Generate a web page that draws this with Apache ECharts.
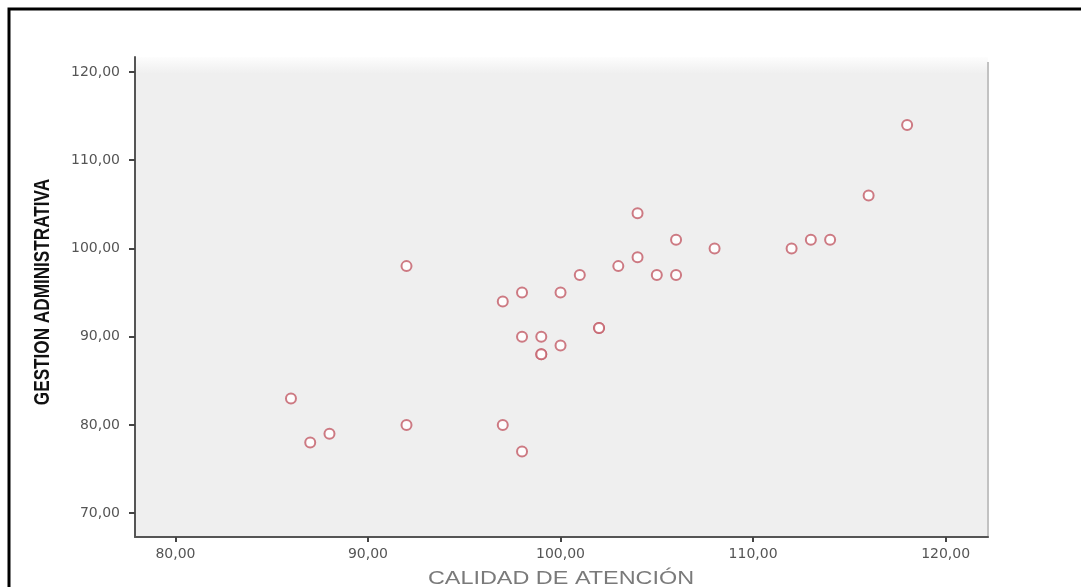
<!DOCTYPE html>
<html>
<head>
<meta charset="utf-8">
<script src="https://cdn.jsdelivr.net/npm/echarts@6/dist/echarts.min.js"></script>
<style>
  html, body { margin: 0; padding: 0; background: #fff; }
  #chart { width: 1081px; height: 587px; }
</style>
</head>
<body>
<div id="chart"></div>
<script>
// CALIDAD DE ATENCIÓN (x) vs GESTION ADMINISTRATIVA (y)
const calidad = [86, 87, 88, 92, 92, 97, 97, 98, 98, 98, 99, 99, 99, 100, 100,
  101, 102, 102, 103, 104, 104, 105, 106, 106, 108, 112, 113, 114, 116, 118];
const gestion = [83, 78, 79, 98, 80, 94, 80, 95, 90, 77, 90, 88, 88, 95, 89,
  97, 91, 91, 98, 104, 99, 97, 101, 97, 100, 100, 101, 101, 106, 114];
const xTicks = [80, 90, 100, 110, 120];
const yTicks = [70, 80, 90, 100, 110, 120];
const xTitle = 'CALIDAD DE ATENCIÓN';
const yTitle = 'GESTION ADMINISTRATIVA';

function fmt(v) {
  return v.toFixed(2).replace('.', ',');
}

let points = calidad.map(function (c, i) {
  return [c, gestion[i]];
});

const chart = echarts.init(document.getElementById('chart'));
let option = {
  animation: false,
  grid: {
    left: 135,
    right: 93,
    top: 57,
    bottom: 50,
    outerBoundsMode: 'none',
    show: true,
    borderWidth: 0,
    backgroundColor: new echarts.graphic.LinearGradient(0, 0, 0, 1, [
      {offset: 0, color: '#fdfdfd'},
      {offset: 0.035, color: '#efefef'},
      {offset: 1, color: '#efefef'}
    ])
  },
  xAxis: {
    type: 'value',
    min: 77.9,
    max: 122.2,
    splitLine: {show: false},
    axisLine: {show: true, lineStyle: {color: '#555', width: 2}},
    axisTick: {show: true, customValues: xTicks, length: 5, lineStyle: {color: '#444', width: 2}},
    axisLabel: {
      customValues: xTicks,
      formatter: fmt,
      margin: 10,
      color: '#555',
      fontFamily: 'DejaVu Sans',
      fontSize: 14
    }
  },
  yAxis: {
    type: 'value',
    min: 67.3,
    max: 121.7,
    splitLine: {show: false},
    axisLine: {show: true, lineStyle: {color: '#555', width: 2}},
    axisTick: {show: true, customValues: yTicks, length: 6, lineStyle: {color: '#444', width: 2}},
    axisLabel: {
      customValues: yTicks,
      formatter: fmt,
      margin: 15,
      color: '#555',
      fontFamily: 'DejaVu Sans',
      fontSize: 14
    }
  },
  series: [
    {
      type: 'scatter',
      symbol: 'emptyCircle',
      symbolSize: 10,
      itemStyle: {
        color: '#c6646e',
        borderColor: '#c6646e',
        borderWidth: 2.2,
        opacity: 0.85
      },
      data: points
    }
  ],
  graphic: [
    {
      // outer frame (top and left edges)
      type: 'polyline',
      shape: {points: [[9, 587], [9, 9], [1081, 9]]},
      style: {stroke: '#000', lineWidth: 3, fill: null}
    },
    {
      // right edge of the plot panel
      type: 'rect',
      shape: {x: 987, y: 62, width: 2, height: 476},
      style: {fill: '#c2c2c2'}
    },
    {
      type: 'text',
      x: 43,
      y: 292,
      rotation: Math.PI / 2,
      scaleX: 0.78,
      style: {
        text: yTitle,
        fill: '#111',
        font: 'bold 22px "Liberation Sans", Arial, sans-serif',
        align: 'center',
        verticalAlign: 'middle'
      }
    },
    {
      type: 'text',
      x: 561,
      y: 579,
      scaleX: 1.3,
      style: {
        text: xTitle,
        fill: '#7a7a7a',
        font: '18px "Liberation Sans", Arial, sans-serif',
        align: 'center',
        verticalAlign: 'middle'
      }
    }
  ]
};
chart.setOption(option);
</script>
</body>
</html>
